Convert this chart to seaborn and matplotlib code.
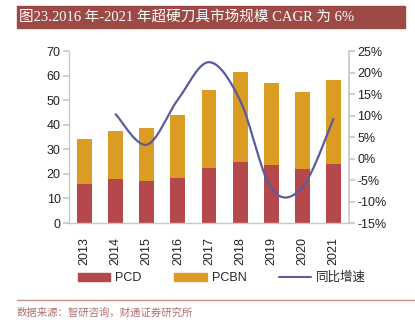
import numpy as np
import pandas as pd
import matplotlib
matplotlib.use("Agg")
import matplotlib.pyplot as plt
import seaborn as sns
from matplotlib.patches import Patch, Rectangle
from matplotlib.lines import Line2D

years = ["2013", "2014", "2015", "2016", "2017", "2018", "2019", "2020", "2021"]
pcd = [15.9, 17.8, 17.1, 18.2, 22.5, 24.7, 23.6, 22.0, 24.1]
pcbn = [18.2, 19.8, 21.7, 25.9, 31.5, 36.6, 33.5, 31.3, 34.1]
growth_years = ["2014", "2015", "2016", "2017", "2018", "2019", "2020", "2021"]
growth = [10.3, 3.2, 13.7, 22.4, 13.5, -6.9, -6.7, 9.2]

C_PCD = "#B4484A"
C_PCBN = "#DA9C22"
C_LINE = "#5A5C9C"
C_TITLE = "#9B4A45"

sns.set_theme(style="white")
plt.rcParams["font.family"] = ["Liberation Sans", "Noto Sans CJK SC"]

fig = plt.figure(figsize=(4.15, 3.26), dpi=100)
ax = fig.add_axes([69 / 415, 1 - 223 / 326, 280 / 415, 172 / 326])

df = pd.DataFrame({"year": years, "PCD": pcd, "PCBN": pcbn})
df["total"] = df["PCD"] + df["PCBN"]
sns.barplot(data=df, x="year", y="total", color=C_PCBN, width=0.48, ax=ax,
            saturation=1, edgecolor="none")
sns.barplot(data=df, x="year", y="PCD", color=C_PCD, width=0.48, ax=ax,
            saturation=1, edgecolor="none")
ax.set_ylim(0, 70)
ax.set_yticks(range(0, 71, 10))
ax.set_xlim(-0.5, len(years) - 0.5)
ax.set_xlabel("")
ax.set_ylabel("")
for s in ["top", "right"]:
    ax.spines[s].set_visible(False)
for s in ["left", "bottom"]:
    ax.spines[s].set_color("#C8C8C8")
    ax.spines[s].set_linewidth(1.0)
ax.tick_params(axis="y", which="both", left=True, length=4, color="#C8C8C8",
               labelsize=9, pad=2, labelcolor="#222222")
ax.tick_params(axis="x", bottom=False, labelsize=9, rotation=90, pad=4,
               labelcolor="#222222")

ax2 = ax.twinx()
xpos = np.array([years.index(y) for y in growth_years], dtype=float)
gy = np.array(growth, dtype=float)
# Catmull-Rom smoothing for rendering (Excel-style smoothed line)
P = np.vstack([xpos, gy]).T
pts = np.vstack([P[0], P, P[-1]])
cx, cy = [], []
for i in range(1, len(pts) - 2):
    p0, p1, p2, p3 = pts[i - 1], pts[i], pts[i + 1], pts[i + 2]
    t = np.linspace(0, 1, 30)[:, None]
    c = 0.5 * ((2 * p1) + (-p0 + p2) * t + (2 * p0 - 5 * p1 + 4 * p2 - p3) * t ** 2
               + (-p0 + 3 * p1 - 3 * p2 + p3) * t ** 3)
    cx.extend(c[:, 0]); cy.extend(c[:, 1])
ax2.plot(cx, cy, color=C_LINE, lw=1.6, solid_capstyle="round")
ax2.set_ylim(-15, 25)
ax2.set_yticks(range(-15, 26, 5))
ax2.set_yticklabels([f"{v}%" for v in range(-15, 26, 5)])
for s in ["top", "left", "bottom"]:
    ax2.spines[s].set_visible(False)
ax2.spines["right"].set_color("#C8C8C8")
ax2.tick_params(axis="y", right=True, length=4, color="#C8C8C8", labelsize=9,
                pad=2, labelcolor="#222222")
ax2.grid(False)
ax.grid(False)

# Title banner
fig.patches.append(Rectangle((17 / 415, 1 - 28 / 326), 388 / 415, 22 / 326,
                             transform=fig.transFigure, color=C_TITLE, zorder=0))
fig.text(19 / 415, 1 - 17 / 326, "图23.2016 年-2021 年超硬刀具市场规模 CAGR 为 6%",
         color="white", fontsize=10.5, va="center", ha="left",
         family=["Liberation Serif", "Noto Sans CJK SC"])

# Legend
handles = [Patch(color=C_PCD, label="PCD"), Patch(color=C_PCBN, label="PCBN"),
           Line2D([0], [0], color=C_LINE, lw=1.5, label="同比增速")]
fig.legend(handles=handles, loc="center", bbox_to_anchor=(222 / 415, 1 - 278 / 326),
           ncol=3, frameon=False, fontsize=9, handlelength=2.6, handleheight=0.6,
           columnspacing=2.6, handletextpad=0.4)

# Footer line and source
fig.add_artist(Line2D([17 / 415, 1.0], [1 - 300 / 326, 1 - 300 / 326],
                      transform=fig.transFigure, color="#C89090", lw=1))
fig.text(17 / 415, 1 - 313 / 326, "数据来源：智研咨询，财通证券研究所", color="#B07070",
         fontsize=7.5, va="center", ha="left", family=["Noto Sans CJK SC"])

fig.savefig("out.png", dpi=100)
